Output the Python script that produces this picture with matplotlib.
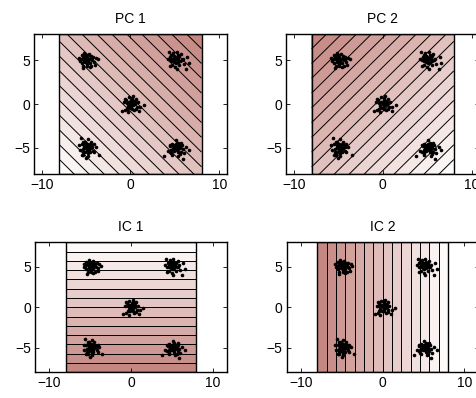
import numpy as np
import matplotlib
matplotlib.use("Agg")
import matplotlib.pyplot as plt
from matplotlib.colors import LinearSegmentedColormap
from matplotlib.patches import Rectangle

plt.rcParams['font.family'] = ['Liberation Sans', 'DejaVu Sans']
plt.rcParams['font.size'] = 10

# cluster centres and hand-read offsets of the points around each one
centres = [(-5, 5), (5, 5), (0, 0), (-5, -5), (5, -5)]
off_a = [(-0.6, 0.1), (-0.4, 0.3), (-0.2, 0.5), (0.1, 0.4), (0.3, 0.2), (0.5, 0.5),
         (0.2, -0.1), (-0.1, -0.2), (-0.5, -0.3), (0.0, 0.0), (0.4, -0.3), (0.7, 0.0),
         (0.9, -0.2), (1.3, 0.1), (1.1, 0.3), (-0.8, 0.3), (-0.3, -0.6), (0.1, -0.7),
         (-0.4, -0.9), (0.6, -0.6), (0.3, 0.7), (-0.2, 0.8), (0.0, 0.6), (-0.7, -0.1),
         (0.2, 0.2), (-0.3, 0.2), (0.5, 0.1), (-0.1, 0.3), (0.8, 0.4), (0.4, -0.8),
         (-0.5, 0.6), (0.1, -0.4), (-0.2, -0.1), (0.6, 0.3), (1.0, -0.5)]
off_b = [(0.0, 0.0), (0.2, 0.3), (-0.2, 0.2), (0.4, 0.1), (-0.4, -0.1), (0.1, -0.3),
         (0.3, -0.2), (-0.1, 0.5), (0.5, 0.5), (-0.5, 0.4), (-0.7, 0.9), (-0.8, 0.2),
         (0.6, -0.1), (0.9, 0.2), (1.4, 0.4), (1.0, -0.4), (-0.3, -0.5), (0.0, -0.8),
         (-0.6, -0.6), (0.2, -1.0), (1.3, -1.0), (0.7, 0.7), (-0.2, 0.8), (0.3, 0.6),
         (-0.4, 0.6), (0.1, 0.1), (-0.1, -0.2), (0.5, -0.5), (-0.6, 0.0), (0.8, 0.0),
         (0.2, 0.9), (-0.3, 0.1), (0.4, 0.3), (0.0, 0.4), (1.6, -0.3)]
off_c = [(0.0, 0.0), (0.2, 0.2), (-0.2, 0.3), (0.3, -0.1), (-0.3, -0.2), (0.1, 0.5),
         (-0.1, -0.4), (0.4, 0.4), (-0.4, 0.1), (0.5, 0.0), (0.2, -0.5), (-0.5, 0.5),
         (0.6, 0.6), (-0.2, 0.8), (0.3, 0.9), (0.7, -0.3), (1.1, -0.3), (1.5, -0.1),
         (1.0, -0.8), (-0.6, -0.7), (-1.0, -0.8), (-0.3, -0.9), (0.4, -0.7), (-0.7, 0.2),
         (0.0, 0.3), (0.1, -0.2), (-0.1, 0.1), (0.5, 0.3), (-0.4, -0.5), (0.8, 0.2),
         (0.2, 0.7), (-0.6, 0.6), (0.6, -0.6), (0.3, 0.0)]
off_d = [(0.0, 0.0), (-0.2, 0.3), (0.2, 0.2), (-0.4, -0.1), (0.3, -0.2), (0.1, 0.5),
         (-0.1, -0.4), (0.4, 0.4), (-0.5, 0.4), (0.5, 0.0), (0.2, -0.6), (-0.3, 0.7),
         (0.5, 0.7), (-0.6, 1.1), (0.2, 1.0), (0.8, -0.3), (1.1, 0.1), (1.5, -0.8),
         (0.9, -0.5), (-0.7, -0.2), (-0.3, -0.8), (0.0, -1.1), (0.4, -0.5), (-0.8, 0.3),
         (0.0, 0.3), (0.1, -0.2), (-0.2, 0.1), (0.6, 0.3), (-0.4, -0.5), (0.7, 0.1),
         (-0.1, 0.7), (0.3, 0.1), (-0.5, -0.8), (0.2, -0.9), (0.9, 0.4)]
off_e = [(0.0, 0.0), (0.2, 0.2), (-0.2, 0.3), (0.4, -0.1), (-0.4, -0.2), (0.1, 0.4),
         (-0.1, -0.3), (0.5, 0.4), (-0.5, 0.2), (0.6, 0.0), (0.3, -0.5), (-0.3, 0.5),
         (0.7, 0.6), (0.1, 0.9), (-0.6, -0.4), (0.9, -0.1), (1.3, 0.1), (1.6, -0.2),
         (1.0, -0.6), (-0.8, -0.3), (-1.2, -0.9), (-0.3, -0.8), (0.4, -0.9), (0.9, -1.2),
         (0.0, 0.3), (0.2, -0.2), (-0.2, 0.0), (0.5, 0.2), (-0.4, -0.6), (0.8, 0.3),
         (0.3, 0.6), (-0.6, 0.3), (0.6, -0.7), (0.3, 0.0), (0.7, -0.4)]
offsets = [off_a, off_b, off_c, off_d, off_e]

titles = ['PC 1', 'PC 2', 'IC 1', 'IC 2']
# unit direction each panel's shading follows
directions = [(1, 1), (-1, 1), (0, -1), (-1, 0)]
n_levels = [20, 20, 15, 15]

px = np.concatenate([c[0] + np.array(o)[:, 0] for c, o in zip(centres, offsets)])
py = np.concatenate([c[1] + np.array(o)[:, 1] for c, o in zip(centres, offsets)])

cmap = LinearSegmentedColormap.from_list('wr', ['#ffffff', '#c3837d'])

W, H = 477, 398
fig = plt.figure(figsize=(W / 100, H / 100), dpi=100)
# axes boxes in pixels: left, top, width, height
boxes = [(34.3, 34, 192.4, 140.3), (286.5, 34, 192.4, 140.3),
         (35, 242.3, 192, 130), (286.7, 242.3, 192, 130)]
xlims = [10.83, 10.83, 11.75, 11.75]

g = np.linspace(-8, 8, 201)
X, Y = np.meshgrid(g, g)

for i in range(4):
    l, t, w, h = boxes[i]
    ax = fig.add_axes([l / W, (H - t - h) / H, w / W, h / H])
    d = np.array(directions[i], float)
    Z = (X * d[0] + Y * d[1]) / np.linalg.norm(d)
    lev = np.linspace(Z.min(), Z.max(), n_levels[i])
    ax.contourf(X, Y, Z, levels=lev, cmap=cmap)
    ax.contour(X, Y, Z, levels=lev[1:-1], colors='k', linewidths=0.7,
               linestyles='solid')
    ax.add_patch(Rectangle((g[0], g[0]), g[-1] - g[0], g[-1] - g[0],
                           fill=False, ec='k', lw=1.0))
    ax.plot(px, py, 'o', color='k', ms=2.6, mew=0)
    ax.set_xlim(-xlims[i], xlims[i])
    ax.set_ylim(-8, 8)
    ax.set_xticks([-10, 0, 10])
    ax.set_yticks([-5, 0, 5])
    ax.set_xticklabels(['\u221210', '0', '10'])
    ax.set_yticklabels(['\u22125', '0', '5'])
    ax.tick_params(direction='in', top=True, right=True, length=3, width=0.6, pad=3)
    for s in ax.spines.values():
        s.set_linewidth(1.0)
    ax.set_title(titles[i], fontsize=10, pad=8)

fig.savefig('out.png', dpi=100)
